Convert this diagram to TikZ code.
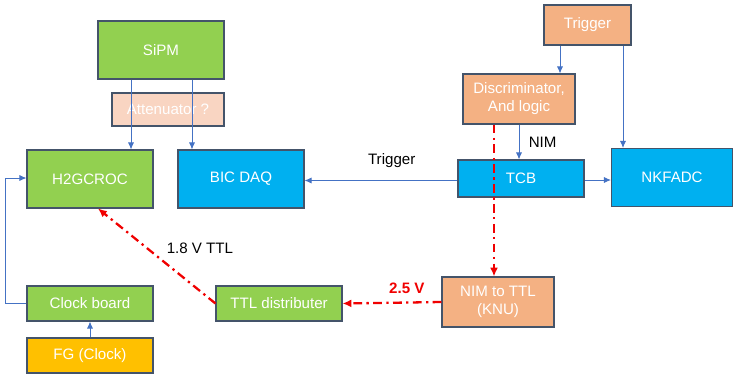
\documentclass[tikz,border=0pt]{standalone}
\usepackage{fontspec}
\setmainfont{Liberation Sans}
\usetikzlibrary{arrows.meta, positioning}
\definecolor{boxgreen}{HTML}{92D050}
\definecolor{boxblue}{HTML}{00B0F0}
\definecolor{boxorange}{HTML}{F4B183}
\definecolor{boxpeach}{HTML}{F9D5C2}
\definecolor{boxyellow}{HTML}{FFC000}
\definecolor{edgegray}{HTML}{44546A}
\definecolor{linkblue}{HTML}{4472C4}
\definecolor{sigred}{HTML}{F00000}
\tikzset{
    block/.style={
        rectangle,
        draw=edgegray,
        line width=0.6pt,
        text=white,
        font=\fontsize{8.6}{10.2}\selectfont,
        minimum width=2.52cm,
        minimum height=1.16cm,
        inner sep=1pt,
        align=center
    },
    arrow/.style={
        draw=linkblue, line width=0.5pt, -{Latex[length=4pt,width=3.5pt]}
    },
    signal/.style={
        draw=sigred, line width=1.3pt,
        dash pattern=on 5pt off 2.5pt on 1.3pt off 2.5pt,
        -{Latex[length=5pt,width=4.5pt]}
    },
    lbl/.style={
        font=\fontsize{8.6}{10.2}\selectfont
    }
}

\begin{document}
\begin{tikzpicture}[x=0.02cm, y=-0.02cm]
\useasboundingbox (0,0) rectangle (733,376);

\node (sipm) [block, fill=boxgreen] at (161,50) {SiPM};
\node (atten) [block, fill=boxpeach, minimum width=2.24cm, minimum height=0.66cm] at (168,109.5) {Attenuator ?};
\node (h2g) [block, fill=boxgreen] at (90,179) {H2GCROC};
\node (bic) [block, fill=boxblue] at (241,179) {BIC DAQ};

\node (trig) [block, fill=boxorange, minimum width=1.74cm, minimum height=0.8cm] at (587.5,25) {Trigger};
\node (disc) [block, fill=boxorange, minimum width=2.24cm, minimum height=1cm] at (519,99) {Discriminator,\\And logic};
\node (tcb) [block, fill=boxblue, minimum height=0.74cm] at (521,178.5) {TCB};
\node (nkf) [block, fill=boxblue, minimum width=2.42cm] at (672,177.5) {NKFADC};
\node (knu) [block, fill=boxorange, minimum width=2.24cm, minimum height=1cm] at (498,302) {NIM to TTL\\(KNU)};

\node (clk) [block, fill=boxgreen, minimum height=0.7cm] at (90,303.5) {Clock board};
\node (fg) [block, fill=boxyellow, minimum height=0.7cm] at (90,355.5) {FG (Clock)};
\node (ttl) [block, fill=boxgreen, minimum height=0.7cm] at (279,303.5) {TTL distributer};

\draw [arrow] ([xshift=-0.6cm]sipm.south) -- ([xshift=-0.6cm]sipm.south |- h2g.north);
\draw [arrow] ([xshift=0.62cm]sipm.south) -- ([xshift=0.62cm]sipm.south |- bic.north);
\draw [arrow] ([xshift=-0.55cm]trig.south) -- ([xshift=-0.55cm]trig.south |- disc.north);
\draw [arrow] ([xshift=0.71cm]trig.south) -- ([xshift=0.71cm]trig.south |- nkf.north);
\draw [arrow] (disc.south) -- node[lbl, right=2pt, pos=0.5] {NIM} (disc.south |- tcb.north);
\draw [arrow] ([yshift=-0.03cm]tcb.east) -- ([yshift=-0.03cm]tcb.east -| nkf.west);
\draw [arrow] ([yshift=-0.04cm]tcb.west) -- node[lbl, above=4pt, pos=0.43] {Trigger} ([yshift=-0.04cm]tcb.west -| bic.east);
\draw [arrow] (fg.north) -- (clk.south);
\draw [arrow] (clk.west) -- ++(-21,0) |- ([yshift=0.02cm]h2g.west);

\draw [signal] ([xshift=-0.5cm]disc.south) -- ([xshift=-0.5cm]disc.south |- knu.north);
\draw [signal] (knu.west) -- node[lbl, above=1pt, pos=0.35, text=sigred, font=\fontsize{8.6}{10.2}\bfseries] {2.5 V} (ttl.east);
\draw [signal] (ttl.west) -- node[lbl, anchor=west, pos=0.585, xshift=0.26cm] {1.8 V TTL} ([xshift=0.16cm]h2g.south);

\end{tikzpicture}
\end{document}
